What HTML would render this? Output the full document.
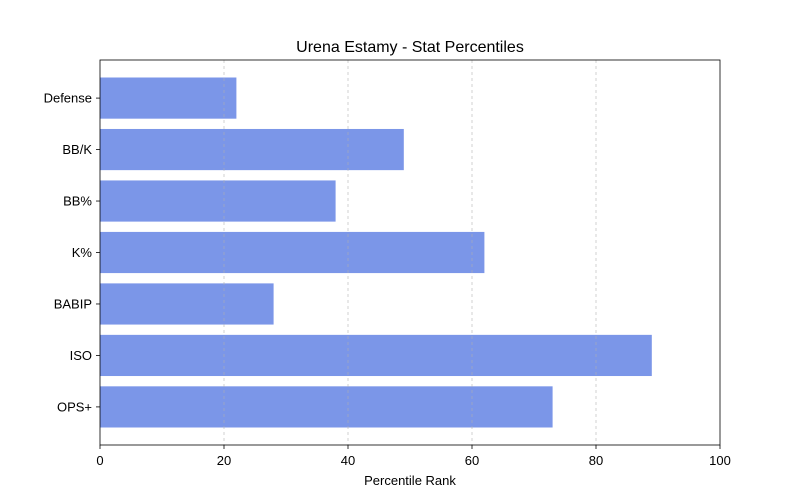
<!DOCTYPE html>
<html><head><meta charset="utf-8"><style>body{margin:0;background:#fff}svg{display:block;font-family:"Liberation Sans","DejaVu Sans",sans-serif}</style></head>
<body>
<svg id="chart" width="800" height="500" xmlns="http://www.w3.org/2000/svg">
<rect width="800" height="500" fill="#fff"/>
<text x="410" y="52" text-anchor="middle" font-size="16" fill="#000">Urena Estamy - Stat Percentiles</text>
<g id="bars"></g><g id="grid"></g><g id="axes"></g>
<text x="410" y="485" text-anchor="middle" font-size="13" fill="#000">Percentile Rank</text>
</svg>
<script>
const categories = ["OPS+","ISO","BABIP","K%","BB%","BB/K","Defense"];
const values = [73,89,28,62,38,49,22];
const xTicks = [0,20,40,60,80,100];
const L=100,R=720,T=60,B=445;
const xs=v=>L+(v-0)/(100-0)*(R-L);
const ys=i=>B-(i+0.74)/7.48*(B-T);
const bw=0.8/7.48*(B-T);
const NS="http://www.w3.org/2000/svg";
function mk(tag,attrs,parent){const e=document.createElementNS(NS,tag);for(const k in attrs)e.setAttribute(k,attrs[k]);parent.appendChild(e);return e;}
const gb=document.getElementById('bars'),gg=document.getElementById('grid'),ga=document.getElementById('axes');
categories.forEach((c,i)=>{
  const r=mk('rect',{x:xs(0),y:ys(i)-bw/2,width:xs(values[i])-xs(0),height:bw,fill:'#7b96e8'},gb);
  
  
  mk('line',{x1:L-4,x2:L,y1:ys(i),y2:ys(i),stroke:'#000','stroke-width':0.8},ga);
  const t=mk('text',{x:L-8,y:ys(i)+4.5,'text-anchor':'end','font-size':13,fill:'#000'},ga);
  t.textContent=c;
  
  
});
xTicks.forEach(v=>{
  if(v>0&&v<100){const g=mk('line',{x1:xs(v),x2:xs(v),y1:T,y2:B,stroke:'#b0b0b0','stroke-width':0.8,'stroke-dasharray':'3,3',opacity:0.7},gg);
  
  }
  mk('line',{x1:xs(v),x2:xs(v),y1:B,y2:B+4,stroke:'#000','stroke-width':0.8},ga);
  const t=mk('text',{x:xs(v),y:B+20,'text-anchor':'middle','font-size':13,fill:'#000'},ga);
  t.textContent=v;
  
  
});
const f=mk('rect',{x:L,y:T,width:R-L,height:B-T,fill:'none',stroke:'#000','stroke-width':0.8},ga);


</script>
</body></html>
